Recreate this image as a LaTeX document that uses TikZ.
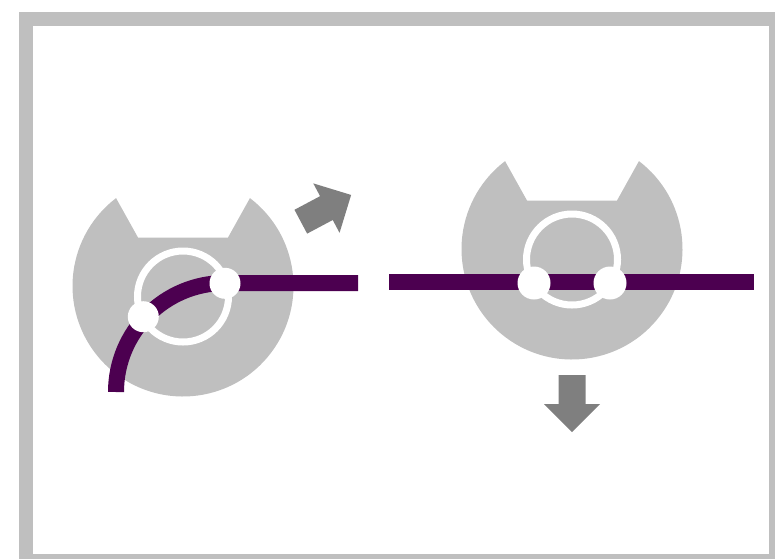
\documentclass[tikz,border=0pt]{standalone}
\usepackage{tikz}

\definecolor{framegray}{HTML}{BFBFBF}
\definecolor{catgray}{HTML}{BFBFBF}
\definecolor{arrowgray}{HTML}{7F7F7F}
\definecolor{railpurple}{HTML}{4C0050}

\tikzset{
  rail/.style={draw=railpurple, line width=16, line cap=butt},
  ring/.style={draw=white, line width=7},
  joint/.style={fill=white},
  % cat head: a disc with a notch cut between the two ears
  cathead/.pic={
    \fill[catgray] (-52.7:110.5) arc[start angle=-52.7, end angle=232.7, radius=110.5]
      -- (-45,-48.5) -- (45,-48.5) -- cycle;
    \draw[ring] (0,10.5) circle[radius=45.5];
  },
  % block arrow, tail centre at the origin, pointing along +x
  blockarrow/.pic={
    \fill[arrowgray] (0,-13.5) -- (29,-13.5) -- (29,-28) -- (57,0)
      -- (29,28) -- (29,13.5) -- (0,13.5) -- cycle;
  }
}

\begin{document}
\begin{tikzpicture}[x=1pt, y=-1pt]
  \useasboundingbox (0,0) rectangle (775,558);
  \clip (0,0) rectangle (775,558);

  % outer frame
  \draw[framegray, line width=13.5] (26,18.75) rectangle (776,561);

  % left: cat on a curved track
  \pic at (183,286) {cathead};
  \draw[rail] (116,392) arc[start angle=180, end angle=270, radius=109] -- (358,283);
  \fill[joint] (143.3,316.7) circle[radius=15.5];
  \fill[joint] (225,283.3) circle[radius=15.5];

  % right: cat on a straight track
  \pic at (572,249) {cathead};
  \draw[rail, line width=15.5] (389,282) -- (754,282);
  \fill[joint] (534,283) circle[radius=16.5];
  \fill[joint] (610,283) circle[radius=16.5];

  % motion arrows
  \pic[rotate=28] at (300.8,221.7) {blockarrow};
  \pic[rotate=-90] at (572,375) {blockarrow};
\end{tikzpicture}
\end{document}
